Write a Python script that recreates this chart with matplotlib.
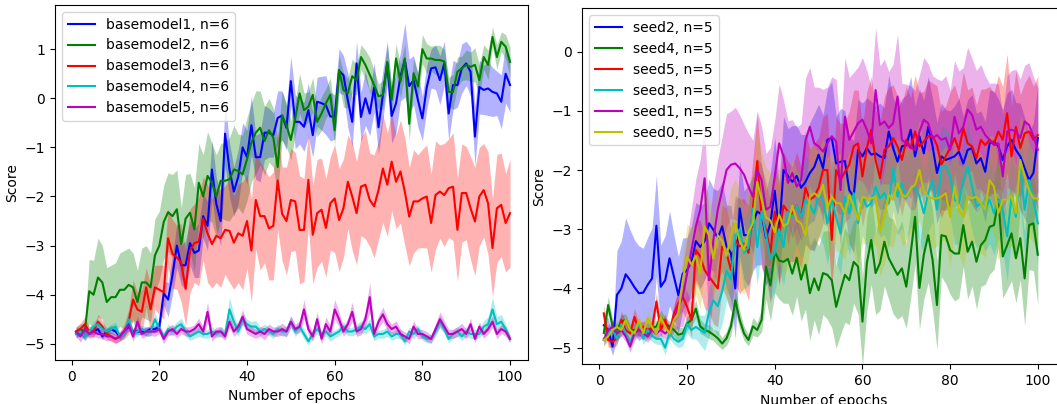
import numpy as np
import matplotlib
matplotlib.use("Agg")
import matplotlib.pyplot as plt

epochs = np.arange(1, 101)

# ---- left panel: base models ----
bm1 = [-4.80, -4.75, -4.85, -4.75, -4.75, -4.70, -4.85, -4.75, -4.70, -4.75,
       -4.85, -4.75, -4.65, -4.75, -4.75, -4.75, -4.75, -4.70, -4.70, -4.65,
       -3.97, -4.10, -3.60, -3.00, -3.40, -3.40, -2.95, -3.15, -3.10, -2.40,
       -2.60, -1.45, -2.15, -2.50, -0.72, -1.45, -1.90, -1.60, -1.00, -1.20,
       -0.55, -1.20, -1.20, -0.70, -0.70, -0.75, -0.40, -0.35, -0.60, 0.35,
       -0.48, -0.48, -0.58, -0.24, -0.75, -0.07, -0.10, -0.14, -0.37, -0.38,
       0.56, 0.47, -0.04, -0.48, 0.71, -0.38, 0.00, -0.31, 0.22, -0.59,
       0.07, 0.71, -0.36, -0.10, 0.44, 0.78, 0.25, 0.37, -0.04, -0.41,
       0.22, 0.61, 0.63, 0.37, 0.71, -0.31, 0.27, 0.27, 0.61, 0.71,
       0.54, -0.78, 0.23, 0.17, 0.20, 0.13, 0.10, -0.07, 0.50, 0.27]
bm1_std = [0.08, 0.07, 0.08, 0.06, 0.07, 0.08, 0.06, 0.07, 0.08, 0.07,
           0.06, 0.08, 0.09, 0.07, 0.06, 0.07, 0.08, 0.07, 0.08, 0.10,
           0.25, 0.35, 0.40, 0.45, 0.40, 0.50, 0.45, 0.50, 0.55, 0.45,
           0.50, 0.60, 0.55, 0.50, 0.65, 0.55, 0.50, 0.55, 0.50, 0.55,
           0.60, 0.45, 0.50, 0.55, 0.50, 0.45, 0.55, 0.50, 0.45, 0.50,
           0.55, 0.45, 0.50, 0.55, 0.45, 0.50, 0.55, 0.60, 0.50, 0.45,
           0.45, 0.40, 0.55, 0.50, 0.45, 0.50, 0.55, 0.45, 0.50, 0.55,
           0.50, 0.45, 0.55, 0.60, 0.50, 0.75, 0.55, 0.50, 0.55, 0.45,
           0.45, 0.40, 0.45, 0.50, 0.45, 0.55, 0.50, 0.45, 0.50, 0.45,
           0.50, 0.60, 0.55, 0.50, 0.55, 0.50, 0.45, 0.55, 0.60, 0.55]

bm2 = [-4.75, -4.70, -4.75, -3.93, -4.00, -3.65, -3.75, -4.15, -4.05, -4.05,
       -3.90, -3.90, -3.80, -3.85, -4.15, -3.75, -3.75, -3.85, -3.20, -3.00,
       -2.52, -2.32, -2.40, -2.26, -2.97, -2.45, -2.33, -2.67, -1.72, -2.00,
       -1.58, -1.72, -2.00, -1.68, -1.68, -1.65, -1.45, -1.48, -1.55, -1.24,
       -0.90, -0.70, -0.60, -0.87, -0.65, -0.80, -1.40, -0.35, -0.55, -0.85,
       -0.41, 0.10, -0.24, -0.17, 0.07, -0.48, -0.31, -0.10, 0.07, -0.65,
       0.58, 0.17, 0.10, 0.45, 0.37, 0.84, 0.68, 0.48, 0.27, 0.04,
       0.07, 0.74, -0.03, 0.81, 0.34, 0.81, -0.52, 0.51, 0.24, 1.00,
       0.81, 0.81, 0.78, 0.78, 0.75, 0.13, 0.13, 0.54, 0.61, 0.68,
       0.64, 0.68, 0.37, 0.84, 0.68, 1.25, 0.84, 1.15, 1.05, 0.74]
bm2_std = [0.08, 0.10, 0.15, 0.65, 0.70, 0.80, 0.75, 0.70, 0.65, 0.70,
           0.75, 0.80, 0.75, 0.70, 0.65, 0.70, 0.75, 0.70, 0.75, 0.70,
           0.75, 0.80, 0.85, 0.80, 0.75, 0.90, 0.80, 0.85, 0.80, 0.85,
           0.90, 0.80, 0.85, 0.75, 0.80, 0.85, 0.90, 0.75, 0.80, 0.85,
           0.80, 0.85, 0.75, 0.70, 0.65, 0.60, 0.55, 0.50, 0.45, 0.40,
           0.35, 0.40, 0.35, 0.30, 0.35, 0.30, 0.35, 0.30, 0.35, 0.30,
           0.30, 0.35, 0.30, 0.35, 0.30, 0.25, 0.30, 0.35, 0.30, 0.25,
           0.30, 0.35, 0.30, 0.30, 0.35, 0.30, 0.35, 0.30, 0.25, 0.30,
           0.30, 0.25, 0.30, 0.30, 0.25, 0.30, 0.35, 0.30, 0.25, 0.30,
           0.30, 0.35, 0.30, 0.25, 0.30, 0.20, 0.25, 0.20, 0.25, 0.30]

bm3 = [-4.75, -4.70, -4.60, -4.75, -4.75, -4.55, -4.65, -4.80, -4.85, -4.90,
       -4.85, -4.75, -4.55, -4.10, -4.30, -4.35, -3.85, -4.30, -3.85, -3.90,
       -3.95, -2.85, -3.17, -3.24, -3.35, -3.88, -3.10, -2.95, -2.92, -2.45,
       -2.75, -2.97, -2.80, -2.85, -2.68, -2.70, -2.94, -2.75, -2.80, -2.50,
       -3.10, -2.07, -2.40, -2.40, -2.65, -2.60, -1.67, -2.35, -2.50, -2.07,
       -2.10, -2.68, -2.68, -1.66, -2.78, -2.34, -2.27, -2.64, -2.14, -2.04,
       -2.48, -2.24, -1.70, -2.00, -2.34, -1.80, -1.76, -2.07, -2.20, -1.87,
       -1.43, -1.76, -1.29, -1.70, -1.49, -1.90, -2.41, -2.10, -2.10, -2.04,
       -2.00, -2.54, -1.97, -1.90, -1.97, -1.83, -1.80, -2.68, -1.93, -1.93,
       -2.24, -2.51, -2.00, -1.87, -2.14, -3.05, -2.24, -2.17, -2.54, -2.34]
bm3_std = [0.10, 0.12, 0.15, 0.10, 0.12, 0.15, 0.12, 0.10, 0.10, 0.08,
           0.10, 0.15, 0.25, 0.40, 0.35, 0.45, 0.40, 0.50, 0.45, 0.50,
           0.55, 0.60, 0.70, 0.65, 0.80, 0.75, 0.85, 0.80, 0.90, 0.85,
           1.00, 0.90, 0.95, 1.00, 0.90, 1.05, 0.95, 1.00, 1.10, 0.95,
           1.05, 1.00, 1.10, 0.95, 1.05, 1.10, 1.00, 0.95, 1.10, 1.05,
           1.00, 1.10, 1.05, 0.95, 1.00, 1.10, 1.05, 1.00, 0.95, 1.10,
           1.05, 1.00, 0.95, 1.10, 1.05, 1.00, 1.10, 0.95, 1.05, 1.00,
           1.10, 1.05, 1.00, 0.95, 1.05, 1.10, 1.00, 1.05, 0.95, 1.00,
           1.05, 1.00, 1.10, 0.95, 1.05, 1.00, 1.10, 1.05, 1.00, 0.95,
           1.05, 1.10, 1.00, 0.95, 1.05, 1.00, 1.10, 1.05, 1.00, 1.10]

bm4 = [-4.80, -4.75, -4.85, -4.75, -4.65, -4.60, -4.70, -4.75, -4.70, -4.65,
       -4.85, -4.80, -4.50, -4.80, -4.75, -4.70, -4.75, -4.75, -4.50, -4.70,
       -4.85, -4.70, -4.75, -4.65, -4.60, -4.75, -4.85, -4.80, -4.75, -4.80,
       -4.80, -4.75, -4.80, -4.75, -4.80, -4.30, -4.55, -4.75, -4.50, -4.60,
       -4.65, -4.65, -4.75, -4.70, -4.75, -4.80, -4.70, -4.75, -4.75, -4.55,
       -4.75, -4.65, -4.80, -4.95, -4.80, -4.70, -4.80, -4.75, -4.85, -4.80,
       -4.75, -4.65, -4.75, -4.75, -4.70, -4.65, -4.70, -4.60, -4.85, -4.80,
       -4.80, -4.75, -4.85, -4.80, -4.80, -4.95, -4.75, -4.80, -4.70, -4.85,
       -4.90, -4.90, -4.75, -4.55, -4.70, -4.90, -4.80, -4.75, -4.85, -4.75,
       -4.80, -4.80, -4.80, -4.65, -4.60, -4.30, -4.60, -4.55, -4.70, -4.90]
bm4_std = [0.08, 0.10, 0.08, 0.09, 0.10, 0.12, 0.10, 0.08, 0.09, 0.10,
           0.08, 0.10, 0.12, 0.09, 0.10, 0.08, 0.09, 0.10, 0.12, 0.10,
           0.08, 0.10, 0.09, 0.10, 0.12, 0.10, 0.08, 0.09, 0.10, 0.08,
           0.09, 0.10, 0.08, 0.10, 0.09, 0.25, 0.15, 0.10, 0.12, 0.10,
           0.10, 0.12, 0.09, 0.10, 0.08, 0.09, 0.10, 0.09, 0.10, 0.12,
           0.10, 0.09, 0.10, 0.08, 0.09, 0.10, 0.08, 0.09, 0.10, 0.08,
           0.09, 0.10, 0.08, 0.09, 0.10, 0.12, 0.10, 0.12, 0.09, 0.08,
           0.09, 0.10, 0.08, 0.09, 0.10, 0.08, 0.09, 0.10, 0.09, 0.08,
           0.08, 0.09, 0.10, 0.12, 0.10, 0.08, 0.09, 0.10, 0.08, 0.10,
           0.09, 0.10, 0.08, 0.12, 0.15, 0.25, 0.15, 0.15, 0.10, 0.08]

bm5 = [-4.75, -4.85, -4.70, -4.80, -4.75, -4.80, -4.80, -4.85, -4.85, -4.90,
       -4.85, -4.75, -4.60, -4.85, -4.55, -4.80, -4.75, -4.75, -4.75, -4.70,
       -4.90, -4.75, -4.70, -4.80, -4.70, -4.75, -4.75, -4.70, -4.60, -4.75,
       -4.35, -4.85, -4.75, -4.75, -4.85, -4.55, -4.75, -4.65, -4.45, -4.70,
       -4.75, -4.80, -4.75, -4.80, -4.70, -4.75, -4.75, -4.70, -4.75, -4.55,
       -4.70, -4.65, -4.30, -4.70, -4.85, -4.50, -4.90, -4.60, -4.75, -4.30,
       -4.50, -4.75, -4.60, -4.35, -4.75, -4.70, -4.50, -4.05, -4.80, -4.55,
       -4.40, -4.60, -4.70, -4.65, -4.80, -4.85, -4.90, -4.65, -4.80, -4.80,
       -4.85, -4.90, -4.70, -4.50, -4.65, -4.80, -4.80, -4.75, -4.70, -4.80,
       -4.60, -4.90, -4.65, -4.80, -4.70, -4.55, -4.80, -4.70, -4.75, -4.90]
bm5_std = [0.10, 0.12, 0.10, 0.09, 0.10, 0.08, 0.10, 0.09, 0.08, 0.10,
           0.09, 0.10, 0.12, 0.10, 0.12, 0.09, 0.10, 0.08, 0.10, 0.09,
           0.10, 0.09, 0.10, 0.08, 0.10, 0.09, 0.10, 0.09, 0.12, 0.10,
           0.20, 0.10, 0.09, 0.10, 0.08, 0.12, 0.10, 0.10, 0.15, 0.10,
           0.10, 0.09, 0.10, 0.12, 0.10, 0.09, 0.10, 0.12, 0.10, 0.12,
           0.10, 0.12, 0.20, 0.12, 0.10, 0.15, 0.10, 0.15, 0.12, 0.20,
           0.15, 0.10, 0.12, 0.20, 0.10, 0.12, 0.15, 0.30, 0.10, 0.12,
           0.15, 0.12, 0.10, 0.12, 0.10, 0.09, 0.10, 0.12, 0.10, 0.09,
           0.10, 0.08, 0.10, 0.15, 0.12, 0.10, 0.09, 0.10, 0.12, 0.10,
           0.12, 0.08, 0.10, 0.09, 0.10, 0.12, 0.10, 0.09, 0.10, 0.08]

# ---- right panel: seeds ----
seed2 = [-4.62, -4.70, -4.98, -4.11, -4.00, -3.76, -3.86, -3.98, -4.08, -4.07,
         -3.94, -3.83, -2.94, -3.97, -3.86, -3.49, -3.80, -4.11, -3.75, -3.69,
         -3.55, -3.20, -3.30, -3.20, -2.90, -3.01, -3.15, -2.95, -3.29, -3.40,
         -4.00, -2.65, -3.10, -3.10, -2.90, -2.70, -2.75, -3.15, -2.90, -2.35,
         -3.05, -2.00, -2.10, -2.20, -2.10, -2.30, -2.20, -2.05, -1.95, -1.74,
         -1.97, -1.49, -1.46, -1.89, -1.86, -1.85, -2.34, -2.45, -1.66, -1.77,
         -1.63, -1.74, -1.72, -1.77, -1.80, -1.35, -1.63, -1.86, -1.60, -1.58,
         -1.32, -1.77, -1.43, -1.72, -1.27, -1.60, -2.05, -1.77, -1.83, -1.80,
         -1.77, -1.69, -1.89, -1.66, -1.63, -1.89, -1.80, -2.03, -1.55, -1.52,
         -1.60, -1.83, -1.60, -1.49, -1.66, -1.77, -1.97, -2.17, -2.05, -1.46]
seed2_std = [0.15, 0.20, 0.15, 0.75, 0.80, 0.95, 0.85, 0.80, 0.80, 0.75,
             0.80, 0.85, 0.85, 0.70, 0.75, 0.80, 0.70, 0.65, 0.60, 0.55,
             0.60, 0.65, 0.70, 0.65, 0.75, 0.70, 0.80, 0.75, 0.70, 0.80,
             0.85, 0.80, 0.75, 0.85, 0.80, 0.90, 0.85, 0.80, 0.85, 0.90,
             0.85, 0.90, 0.80, 0.95, 0.85, 0.90, 0.80, 0.85, 0.90, 0.85,
             0.90, 0.85, 0.95, 0.80, 0.90, 0.85, 0.90, 0.95, 0.85, 0.90,
             0.85, 0.90, 0.80, 0.90, 0.85, 0.95, 0.85, 0.90, 0.80, 0.85,
             0.90, 0.85, 0.80, 0.90, 0.85, 0.80, 0.85, 0.90, 0.85, 0.80,
             0.85, 0.90, 0.80, 0.85, 0.90, 0.85, 0.80, 0.85, 0.90, 0.85,
             0.80, 0.85, 0.90, 0.85, 0.80, 0.90, 0.85, 0.80, 0.85, 0.90]

seed4 = [-4.75, -4.28, -4.64, -4.70, -4.56, -4.53, -4.70, -4.70, -4.67, -4.70,
         -4.76, -4.67, -4.64, -4.48, -4.59, -4.64, -4.70, -4.78, -4.76, -4.59,
         -4.53, -4.34, -4.64, -4.70, -4.73, -4.78, -4.84, -4.93, -4.84, -4.64,
         -4.20, -4.53, -4.76, -4.87, -4.64, -4.70, -4.53, -3.63, -3.95, -3.38,
         -3.53, -3.55, -3.50, -3.75, -3.48, -3.85, -3.60, -4.08, -3.83, -4.03,
         -3.74, -3.77, -3.86, -4.31, -4.03, -3.77, -3.86, -3.55, -3.63, -4.56,
         -3.57, -3.18, -3.74, -3.57, -3.21, -3.49, -3.63, -3.77, -3.66, -3.97,
         -3.41, -2.79, -3.99, -3.43, -3.10, -3.52, -4.28, -3.10, -3.12, -3.35,
         -3.41, -3.41, -2.93, -3.38, -3.21, -3.55, -3.27, -3.18, -2.96, -2.93,
         -2.50, -3.46, -3.27, -3.07, -3.49, -3.15, -3.83, -2.93, -2.90, -3.43]
seed4_std = [0.10, 0.15, 0.12, 0.10, 0.12, 0.10, 0.09, 0.10, 0.12, 0.10,
             0.10, 0.12, 0.10, 0.12, 0.10, 0.09, 0.10, 0.12, 0.10, 0.12,
             0.10, 0.15, 0.12, 0.10, 0.12, 0.10, 0.12, 0.10, 0.12, 0.15,
             0.20, 0.15, 0.12, 0.10, 0.15, 0.12, 0.20, 0.55, 0.60, 0.70,
             0.65, 0.70, 0.75, 0.70, 0.65, 0.70, 0.75, 0.80, 0.70, 0.75,
             0.70, 0.75, 0.80, 0.70, 0.75, 0.80, 0.75, 0.70, 0.80, 0.75,
             0.80, 0.75, 0.70, 0.80, 0.75, 0.70, 0.80, 0.75, 0.80, 0.70,
             0.75, 0.80, 0.70, 0.75, 0.80, 0.85, 0.75, 0.70, 0.80, 0.75,
             0.80, 0.75, 0.70, 0.80, 0.75, 0.80, 0.70, 0.75, 0.80, 0.75,
             0.80, 0.70, 0.75, 0.80, 0.75, 0.70, 0.80, 0.75, 0.80, 0.85]

seed5 = [-4.42, -4.87, -4.90, -4.84, -4.53, -4.70, -4.76, -4.48, -4.70, -4.65,
         -4.70, -4.67, -4.22, -4.70, -4.53, -4.76, -4.42, -4.25, -4.14, -4.31,
         -4.53, -3.35, -3.46, -3.69, -3.80, -3.90, -4.00, -3.29, -3.40, -3.69,
         -3.18, -3.29, -3.24, -3.40, -2.67, -1.85, -2.80, -3.00, -3.40, -2.70,
         -3.10, -2.60, -2.70, -2.75, -2.60, -2.80, -2.30, -2.50, -2.45, -2.30,
         -2.00, -2.00, -3.18, -2.00, -2.17, -2.03, -1.91, -1.60, -1.55, -2.11,
         -1.63, -1.32, -1.83, -2.14, -1.66, -1.60, -1.46, -1.60, -1.83, -1.49,
         -1.63, -1.35, -1.60, -1.52, -1.43, -1.43, -1.58, -1.91, -1.77, -1.63,
         -1.46, -1.66, -1.29, -1.55, -1.60, -1.80, -1.49, -1.58, -1.49, -1.55,
         -1.35, -1.49, -1.04, -1.77, -1.27, -1.63, -1.38, -1.35, -1.49, -1.41]
seed5_std = [0.15, 0.12, 0.10, 0.12, 0.15, 0.12, 0.10, 0.15, 0.12, 0.10,
             0.12, 0.10, 0.15, 0.12, 0.10, 0.12, 0.15, 0.20, 0.25, 0.25,
             0.30, 0.55, 0.60, 0.65, 0.60, 0.70, 0.65, 0.70, 0.75, 0.70,
             0.75, 0.80, 0.75, 0.80, 0.85, 0.80, 0.85, 0.80, 0.85, 0.80,
             0.85, 0.90, 0.85, 0.80, 0.90, 0.85, 0.95, 0.85, 0.90, 0.85,
             0.90, 0.95, 0.85, 0.90, 0.95, 0.85, 0.90, 0.95, 0.90, 0.85,
             0.95, 0.90, 0.85, 0.95, 0.90, 1.00, 0.90, 0.85, 0.95, 0.90,
             0.85, 0.95, 0.90, 0.85, 0.95, 0.90, 1.00, 0.90, 0.85, 0.95,
             0.90, 0.85, 0.95, 0.90, 1.00, 0.90, 0.85, 0.95, 0.90, 0.85,
             0.95, 0.90, 1.00, 0.85, 0.95, 0.90, 0.85, 0.95, 0.90, 1.00]

seed3 = [-4.85, -4.75, -4.70, -4.85, -4.60, -4.75, -4.90, -4.75, -4.60, -4.85,
         -4.70, -4.80, -4.85, -4.85, -5.00, -4.75, -4.85, -4.90, -4.85, -4.60,
         -4.70, -4.65, -4.70, -4.75, -4.40, -4.20, -4.30, -4.05, -3.70, -3.85,
         -3.10, -3.00, -3.40, -3.30, -2.65, -3.30, -2.70, -3.10, -3.50, -3.40,
         -3.00, -3.30, -2.70, -2.80, -2.60, -2.80, -2.50, -2.60, -2.73, -2.40,
         -2.50, -2.90, -2.50, -2.79, -3.07, -2.45, -2.73, -2.39, -2.90, -2.45,
         -2.62, -2.56, -2.28, -2.48, -2.39, -2.56, -1.97, -2.45, -2.22, -2.48,
         -2.31, -2.28, -2.45, -2.73, -2.39, -2.17, -2.67, -1.94, -1.94, -2.11,
         -2.50, -2.56, -2.17, -1.94, -2.28, -2.62, -2.56, -2.67, -2.50, -2.73,
         -2.50, -2.67, -3.12, -2.45, -2.79, -1.94, -2.67, -2.17, -2.50, -2.90]
seed3_std = [0.10, 0.12, 0.10, 0.09, 0.12, 0.10, 0.12, 0.10, 0.09, 0.10,
             0.12, 0.10, 0.09, 0.10, 0.12, 0.10, 0.09, 0.10, 0.12, 0.15,
             0.15, 0.20, 0.25, 0.30, 0.40, 0.45, 0.50, 0.55, 0.50, 0.55,
             0.60, 0.55, 0.60, 0.65, 0.60, 0.65, 0.60, 0.65, 0.70, 0.65,
             0.70, 0.65, 0.75, 0.70, 0.65, 0.70, 0.75, 0.70, 0.65, 0.70,
             0.75, 0.70, 0.65, 0.75, 0.70, 0.65, 0.70, 0.75, 0.70, 0.65,
             0.70, 0.75, 0.70, 0.65, 0.70, 0.75, 0.70, 0.65, 0.75, 0.70,
             0.65, 0.70, 0.75, 0.70, 0.65, 0.70, 0.75, 0.70, 0.65, 0.70,
             0.75, 0.70, 0.65, 0.70, 0.75, 0.70, 0.65, 0.70, 0.75, 0.70,
             0.65, 0.70, 0.75, 0.70, 0.65, 0.70, 0.75, 0.70, 0.65, 0.70]

seed1 = [-4.87, -4.70, -4.65, -4.76, -4.70, -4.81, -4.98, -4.76, -4.70, -4.76,
         -4.81, -4.70, -4.76, -4.70, -4.76, -4.70, -4.53, -4.31, -4.14, -3.75,
         -3.35, -2.95, -2.67, -2.14, -3.86, -3.18, -2.67, -2.34, -2.00, -1.91,
         -1.89, -1.97, -2.08, -2.28, -2.45, -2.00, -2.17, -2.67, -2.62, -2.11,
         -1.55, -1.77, -2.22, -2.05, -2.28, -2.17, -1.50, -1.27, -1.55, -1.60,
         -1.69, -1.55, -1.43, -1.52, -2.34, -1.10, -1.49, -1.35, -1.21, -1.15,
         -1.32, -1.55, -0.65, -1.24, -1.18, -1.29, -1.21, -0.76, -1.49, -1.55,
         -1.63, -1.66, -1.35, -1.15, -1.21, -1.46, -1.41, -1.49, -1.46, -1.66,
         -1.10, -1.38, -1.27, -0.98, -1.07, -1.32, -1.27, -1.41, -1.49, -1.58,
         -1.55, -2.11, -1.35, -1.32, -1.35, -1.46, -1.18, -1.24, -1.43, -1.66]
seed1_std = [0.10, 0.09, 0.10, 0.12, 0.10, 0.09, 0.10, 0.12, 0.10, 0.09,
             0.10, 0.12, 0.10, 0.09, 0.10, 0.12, 0.20, 0.35, 0.50, 0.60,
             0.70, 0.80, 0.85, 0.90, 0.95, 0.90, 0.85, 0.90, 0.95, 0.90,
             0.95, 0.90, 0.85, 0.90, 0.95, 1.00, 0.90, 0.95, 1.00, 0.95,
             1.00, 0.95, 1.05, 0.90, 1.00, 0.95, 1.05, 1.00, 0.95, 1.00,
             1.05, 0.95, 1.00, 1.05, 0.95, 1.00, 1.05, 1.00, 0.95, 1.05,
             1.00, 0.95, 1.05, 1.00, 1.05, 0.95, 1.00, 1.05, 0.95, 1.00,
             1.05, 1.00, 0.95, 1.05, 1.00, 1.05, 0.95, 1.00, 1.05, 1.00,
             0.95, 1.05, 1.00, 1.05, 0.95, 1.00, 1.05, 1.00, 0.95, 1.05,
             1.00, 1.05, 0.95, 1.00, 1.05, 1.00, 0.95, 1.05, 1.00, 1.05]

seed0 = [-4.87, -4.81, -4.70, -4.65, -4.70, -4.53, -4.70, -4.76, -4.53, -4.76,
         -4.50, -4.65, -4.76, -4.48, -4.65, -4.76, -4.53, -4.42, -3.86, -3.46,
         -3.60, -3.45, -3.75, -2.95, -3.10, -3.50, -3.10, -3.20, -3.45, -3.10,
         -2.90, -3.20, -3.35, -3.05, -2.90, -2.20, -2.50, -2.80, -2.85, -3.05,
         -2.75, -2.95, -2.90, -2.60, -2.85, -2.90, -3.10, -2.45, -2.39, -2.45,
         -2.25, -2.65, -2.45, -2.56, -2.56, -2.73, -2.42, -2.62, -2.84, -2.45,
         -2.48, -2.48, -2.45, -3.04, -2.79, -2.42, -2.50, -2.22, -2.42, -2.45,
         -2.31, -2.25, -2.00, -2.36, -2.45, -2.48, -2.48, -2.45, -2.39, -2.79,
         -2.28, -2.67, -2.79, -2.45, -2.48, -2.45, -2.56, -2.67, -2.17, -2.28,
         -2.73, -2.50, -2.50, -2.45, -2.73, -1.83, -2.11, -2.34, -2.48, -2.48]
seed0_std = [0.10, 0.09, 0.10, 0.12, 0.10, 0.09, 0.12, 0.10, 0.09, 0.10,
             0.12, 0.10, 0.09, 0.10, 0.12, 0.10, 0.15, 0.20, 0.45, 0.55,
             0.60, 0.65, 0.60, 0.70, 0.65, 0.70, 0.75, 0.70, 0.75, 0.80,
             0.75, 0.80, 0.75, 0.80, 0.85, 0.90, 0.80, 0.85, 0.80, 0.85,
             0.80, 0.85, 0.75, 0.80, 0.85, 0.80, 0.75, 0.85, 0.80, 0.75,
             0.80, 0.85, 0.75, 0.80, 0.85, 0.80, 0.75, 0.80, 0.85, 0.80,
             0.75, 0.85, 0.80, 0.75, 0.80, 0.85, 0.80, 0.75, 0.85, 0.80,
             0.75, 0.80, 0.85, 0.80, 0.75, 0.85, 0.80, 0.75, 0.80, 0.85,
             0.80, 0.75, 0.85, 0.80, 0.75, 0.80, 0.85, 0.80, 0.75, 0.85,
             0.80, 0.75, 0.80, 0.85, 0.80, 0.75, 0.85, 0.80, 0.75, 0.80]

left_series = [("basemodel1, n=6", bm1, bm1_std, 'b'),
               ("basemodel2, n=6", bm2, bm2_std, 'g'),
               ("basemodel3, n=6", bm3, bm3_std, 'r'),
               ("basemodel4, n=6", bm4, bm4_std, 'c'),
               ("basemodel5, n=6", bm5, bm5_std, 'm')]

right_series = [("seed2, n=5", seed2, seed2_std, 'b'),
                ("seed4, n=5", seed4, seed4_std, 'g'),
                ("seed5, n=5", seed5, seed5_std, 'r'),
                ("seed3, n=5", seed3, seed3_std, 'c'),
                ("seed1, n=5", seed1, seed1_std, 'm'),
                ("seed0, n=5", seed0, seed0_std, 'y')]


def draw_panel(ax, series):
    for label, mean, std, color in series:
        mean = np.array(mean)
        std = np.array(std)
        ax.plot(epochs, mean, color=color, lw=1.5, label=label)
        ax.fill_between(epochs, mean - std, mean + std, color=color,
                        alpha=0.3, lw=0)
    ax.set_xlabel("Number of epochs", fontsize=10)
    ax.set_ylabel("Score", fontsize=10)
    ax.set_xticks([0, 20, 40, 60, 80, 100])
    ax.tick_params(labelsize=10)
    ax.legend(loc='upper left', fontsize=10)
    return ax


fig = plt.figure(figsize=(10.57, 4.04), dpi=100)

ax0 = fig.add_axes([55 / 1057, 44 / 404, 473 / 1057, 355 / 404])
draw_panel(ax0, left_series)
ax0.set_xlim(-3.8, 104.1)
ax0.set_ylim(-5.33, 1.9)

ax1 = fig.add_axes([582 / 1057, 39.7 / 404, 483 / 1057, 356 / 404])
draw_panel(ax1, right_series)
ax1.set_xlim(-3.97, 106.2)
ax1.set_ylim(-5.28, 0.73)

fig.savefig("out.png", dpi=100)
